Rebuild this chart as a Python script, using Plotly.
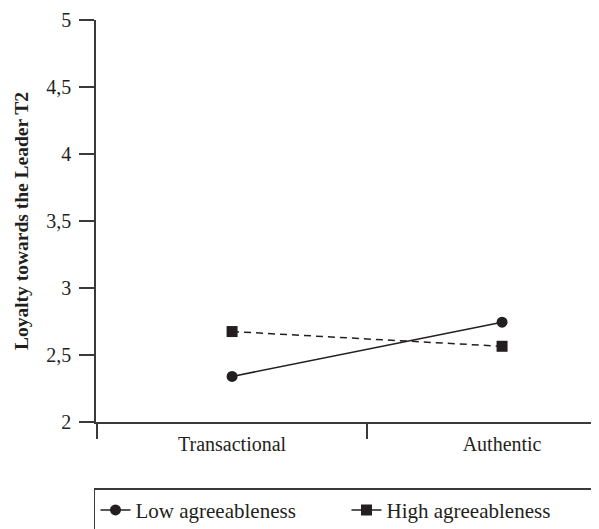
import plotly.graph_objects as go

categories = ["Transactional", "Authentic"]
low_agree = [2.34, 2.745]
high_agree = [2.675, 2.565]
series_names = ["Low agreeableness", "High agreeableness"]
y_tickvals = [2, 2.5, 3, 3.5, 4, 4.5, 5]
y_ticktext = ["2", "2,5", "3", "3,5", "4", "4,5", "5"]

FONT = "Liberation Serif"
INK = "#231f20"
AX = "#3a3a3a"

fig = go.Figure()
# plotted series (legend drawn by separate entries below)
fig.add_trace(go.Scatter(x=categories, y=low_agree, mode="lines+markers",
                         line=dict(color=INK, width=1.5),
                         marker=dict(symbol="circle", size=11, color=INK),
                         showlegend=False))
fig.add_trace(go.Scatter(x=categories, y=high_agree, mode="lines+markers",
                         line=dict(color=INK, width=1.5, dash="7px,5px"),
                         marker=dict(symbol="square", size=11, color=INK),
                         showlegend=False))
# legend entries (solid line in both, as in the reference)
fig.add_trace(go.Scatter(x=[None], y=[None], mode="lines+markers", name=series_names[0],
                         line=dict(color=INK, width=1.5),
                         marker=dict(symbol="circle", size=11, color=INK)))
fig.add_trace(go.Scatter(x=[None], y=[None], mode="lines+markers", name=series_names[1],
                         line=dict(color=INK, width=1.5),
                         marker=dict(symbol="square", size=11, color=INK)))

fig.update_layout(
    width=599, height=529,
    margin=dict(l=88, r=8, t=12, b=115, autoexpand=False),
    paper_bgcolor="white", plot_bgcolor="white",
    font=dict(family=FONT, size=20, color=INK),
    legend=dict(orientation="h", x=-0.004, xanchor="left", y=-0.165, yanchor="top",
                bordercolor=AX, borderwidth=1.5, font=dict(size=21, family=FONT, color=INK),
                entrywidth=206, entrywidthmode="pixels", tracegroupgap=0),
)
fig.update_xaxes(type="category", categoryorder="array", categoryarray=categories,
                 range=[-0.504, 1.359], tickson="boundaries", ticks="outside", ticklen=15,
                 tickcolor=AX, tickwidth=1.5, showline=True, linecolor=AX,
                 linewidth=1.5, showgrid=False, zeroline=False, ticklabelstandoff=3,
                 tickfont=dict(size=20, family=FONT, color=INK))
fig.update_yaxes(range=[2, 5], tickvals=y_tickvals, ticktext=y_ticktext,
                 ticks="outside", ticklen=15, tickcolor=AX, tickwidth=1.5,
                 showline=True, linecolor=AX, linewidth=1.5, showgrid=False,
                 zeroline=False, ticklabelstandoff=4,
                 tickfont=dict(size=20, family=FONT, color=INK),
                 title=dict(text="<b>Loyalty towards the Leader T2</b>",
                            font=dict(size=19.5, family=FONT, color=INK), standoff=12))

fig.write_html("out.html")
